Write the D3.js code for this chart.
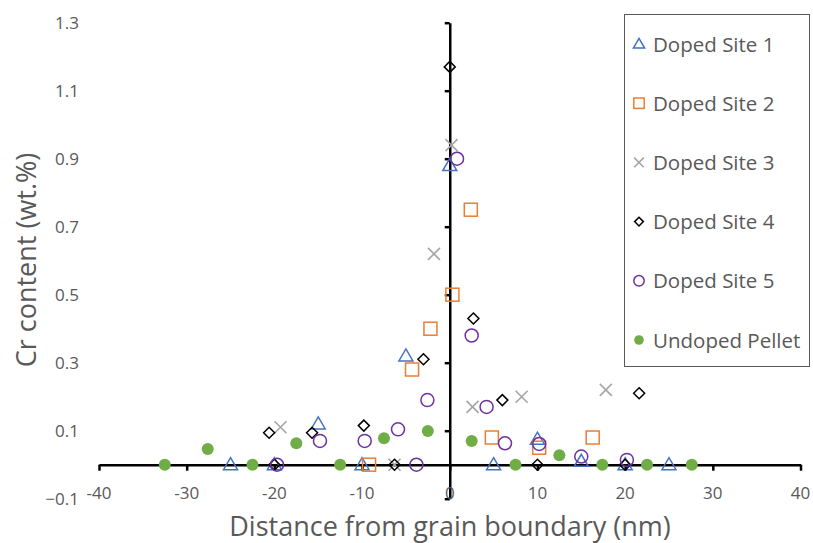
<!DOCTYPE html>
<html>
<head>
<meta charset="utf-8">
<script src="https://cdn.jsdelivr.net/npm/d3@7"></script>
<style>
  body { margin: 0; background: #fff; }
  svg { display: block; font-family: 'Open Sans', 'Noto Sans', sans-serif; }
</style>
</head>
<body>
<script>
const width = 813;
const height = 543;

const seriesNames = ['Doped Site 1', 'Doped Site 2', 'Doped Site 3', 'Doped Site 4', 'Doped Site 5', 'Undoped Pellet'];

const site1X = [-25, -20, -15, -10, -5, 0, 5, 10, 15, 20, 25];
const site1Y = [0, 0, 0.12, 0, 0.32, 0.88, 0, 0.075, 0.01, 0, 0];

const site2X = [-9.2, -4.3, -2.2, 0.3, 2.4, 4.8, 10.2, 16.3];
const site2Y = [0, 0.28, 0.40, 0.50, 0.75, 0.08, 0.05, 0.08];

const site3X = [-19.3, -6.3, -1.8, 0.2, 2.6, 8.2, 17.8];
const site3Y = [0.11, 0, 0.62, 0.94, 0.17, 0.20, 0.22];

const site4X = [-20.6, -20, -15.7, -9.8, -6.3, -3.0, 0, 2.7, 6.0, 10, 20, 21.6];
const site4Y = [0.094, 0, 0.094, 0.115, 0, 0.31, 1.17, 0.43, 0.19, 0, 0, 0.21];

const site5X = [-19.7, -14.8, -9.7, -5.9, -3.8, -2.55, 0.83, 2.5, 4.2, 6.3, 10.2, 15, 20.2];
const site5Y = [0, 0.07, 0.07, 0.104, 0, 0.19, 0.90, 0.38, 0.17, 0.063, 0.061, 0.024, 0.014];

const pelletX = [-32.5, -27.6, -22.5, -17.5, -12.5, -7.5, -2.5, 2.5, 7.5, 12.5, 17.4, 22.5, 27.6];
const pelletY = [0, 0.046, 0, 0.063, 0, 0.078, 0.099, 0.07, 0, 0.028, 0, 0, 0];

const xTicks = [-40, -30, -20, -10, 0, 10, 20, 30, 40];
const yTicks = [-0.1, 0.1, 0.3, 0.5, 0.7, 0.9, 1.1, 1.3];

const allX = [site1X, site2X, site3X, site4X, site5X, pelletX];
const allY = [site1Y, site2Y, site3Y, site4Y, site5Y, pelletY];
const colors = ['#4472C4', '#ED7D31', '#A5A5A5', '#000000', '#7030A0', '#70AD47'];
const shapes = ['triangle', 'square', 'cross', 'diamond', 'circle', 'dot'];

const series = seriesNames.map((name, i) => ({
  name,
  color: colors[i],
  shape: shapes[i],
  points: allX[i].map((x, j) => ({ x, y: allY[i][j] }))
}));

const x = d3.scaleLinear().domain([-40, 40]).range([99, 800.5]);
const y = d3.scaleLinear().domain([-0.1, 1.3]).range([498.7, 22.7]);

const svg = d3.select('body').append('svg')
  .attr('width', width)
  .attr('height', height);

const textColor = '#595959';

// x axis at y = 0
const xAxisG = svg.append('g')
  .attr('transform', `translate(0,${y(0)})`)
  .call(d3.axisBottom(x).tickValues(xTicks).tickSizeInner(6).tickSizeOuter(0).tickFormat(''));
xAxisG.select('.domain').attr('stroke', '#000').attr('stroke-width', 2.5);
xAxisG.selectAll('.tick line').attr('stroke', '#000').attr('stroke-width', 2.5);

// y axis at x = 0
const yAxisG = svg.append('g')
  .attr('transform', `translate(${x(0)},0)`)
  .call(d3.axisLeft(y).tickValues(yTicks).tickSizeInner(5).tickSizeOuter(0).tickFormat(''));
yAxisG.select('.domain').attr('stroke', '#000').attr('stroke-width', 2.5);
yAxisG.selectAll('.tick line').attr('stroke', '#000').attr('stroke-width', 2.5);

// tick labels at the low position
svg.append('g').selectAll('text')
  .data(xTicks)
  .join('text')
  .attr('x', d => x(d))
  .attr('y', 499)
  .attr('text-anchor', 'middle')
  .attr('fill', textColor)
  .attr('font-size', 17)
  .text(d => d);

svg.append('g').selectAll('text')
  .data(yTicks)
  .join('text')
  .attr('x', 79)
  .attr('y', d => y(d) + 6)
  .attr('text-anchor', 'end')
  .attr('fill', textColor)
  .attr('font-size', 17)
  .text(d => d3.format('.1f')(d));

// axis titles
svg.append('text')
  .attr('x', 450)
  .attr('y', 536)
  .attr('text-anchor', 'middle')
  .attr('fill', textColor)
  .attr('font-size', 27)
  .text('Distance from grain boundary (nm)');

svg.append('text')
  .attr('transform', 'translate(36,260) rotate(-90)')
  .attr('text-anchor', 'middle')
  .attr('fill', textColor)
  .attr('font-size', 27)
  .text('Cr content (wt.%)');

function drawMarker(g, shape, color, s) {
  if (shape === 'triangle') {
    g.append('path')
      .attr('d', `M0,${-7 * s}L${7 * s},${5 * s}L${-7 * s},${5 * s}Z`)
      .attr('fill', 'none').attr('stroke', color).attr('stroke-width', 1.5);
  } else if (shape === 'square') {
    g.append('rect')
      .attr('x', -6.5 * s).attr('y', -6.5 * s)
      .attr('width', 13 * s).attr('height', 13 * s)
      .attr('fill', 'none').attr('stroke', color).attr('stroke-width', 1.5);
  } else if (shape === 'cross') {
    g.append('path')
      .attr('d', `M${-6 * s},${-6 * s}L${6 * s},${6 * s}M${6 * s},${-6 * s}L${-6 * s},${6 * s}`)
      .attr('fill', 'none').attr('stroke', color).attr('stroke-width', 1.6);
  } else if (shape === 'diamond') {
    g.append('path')
      .attr('d', `M0,${-5.5 * s}L${5.5 * s},0L0,${5.5 * s}L${-5.5 * s},0Z`)
      .attr('fill', 'none').attr('stroke', color).attr('stroke-width', 1.5);
  } else if (shape === 'circle') {
    g.append('circle')
      .attr('r', 6.5 * s)
      .attr('fill', 'none').attr('stroke', color).attr('stroke-width', 1.5);
  } else {
    g.append('circle')
      .attr('r', 6 * s)
      .attr('fill', color).attr('stroke', 'none');
  }
}

// points
for (const s of series) {
  const g = svg.append('g');
  g.selectAll('g')
    .data(s.points)
    .join('g')
    .attr('transform', d => `translate(${x(d.x)},${y(d.y)})`)
    .each(function () { drawMarker(d3.select(this), s.shape, s.color, 1); });
}

// legend
const legend = svg.append('g');
legend.append('rect')
  .attr('x', 624.5).attr('y', 14.5)
  .attr('width', 185).attr('height', 352)
  .attr('fill', '#fff').attr('stroke', '#595959').attr('stroke-width', 1);

const items = legend.selectAll('g.item')
  .data(series)
  .join('g')
  .attr('class', 'item')
  .attr('transform', (d, i) => `translate(639,${44 + i * 59.2})`);

items.each(function (d) { drawMarker(d3.select(this), d.shape, d.color, 0.8); });

items.append('text')
  .attr('x', 14)
  .attr('y', 7.5)
  .attr('fill', textColor)
  .attr('font-size', 20.5)
  .text(d => d.name);
</script>
</body>
</html>
